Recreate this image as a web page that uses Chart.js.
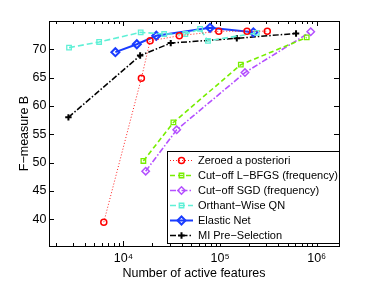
<!DOCTYPE html>
<html>
<head>
<meta charset="utf-8">
<script src="https://cdn.jsdelivr.net/npm/chart.js@4/dist/chart.umd.min.js"></script>
<style>
  html, body { margin: 0; padding: 0; background: #fff; }
  #wrap { width: 374px; height: 281px; }
</style>
</head>
<body>
<div id="wrap"><canvas id="chart" width="374" height="281"></canvas></div>
<script>
// series: number of active features (x) vs F-measure B (y)
const zeroedX = [6270, 15350, 18900, 37900, 97000, 190000, 308000];
const zeroedY = [39.5, 64.9, 71.5, 72.4, 73.2, 73.2, 73.2];

const lbfgsX = [16100, 32900, 164000, 788000];
const lbfgsY = [50.3, 57.1, 67.3, 72.1];

const sgdX = [17000, 35600, 181000, 867000];
const sgdY = [48.5, 55.8, 65.9, 73.1];

const owqnX = [2740, 5610, 15100, 26400, 43700, 62100, 75000, 240000];
const owqnY = [70.3, 71.3, 73.0, 72.7, 72.7, 73.6, 71.5, 72.9];

const elasticX = [8260, 13770, 21900, 78800, 221000];
const elasticY = [69.5, 70.9, 72.4, 73.8, 73.0];

const miX = [2700, 14900, 30900, 149000, 611000];
const miY = [58.0, 68.9, 71.1, 71.95, 72.8];

const seriesNames = [
  'Zeroed a posteriori',
  'Cut\u2212off L\u2212BFGS (frequency)',
  'Cut\u2212off SGD (frequency)',
  'Orthant\u2212Wise QN',
  'Elastic Net',
  'MI Pre\u2212Selection',
];

const xTicks = [1e4, 1e5, 1e6];
const xTickLabels = ['10\u2074', '10\u2075', '10\u2076'];
const yTicks = [40, 45, 50, 55, 60, 65, 70];

const xMin = 1700, xMax = 1.7e6;
const yMin = 35.3, yMax = 75;

const FONT = '"Liberation Sans", Arial, Helvetica, sans-serif';

function pts(xs, ys) {
  return xs.map((x, i) => ({ x, y: ys[i] }));
}

const clear = 'rgba(0,0,0,0)';

const datasets = [
  {
    label: seriesNames[0], data: pts(zeroedX, zeroedY),
    borderColor: '#ff2020', borderWidth: 1, borderDash: [1, 2],
    pointStyle: 'circle', pointRadius: 3, pointBorderWidth: 1.5,
    pointBorderColor: '#ff0000', pointBackgroundColor: clear,
  },
  {
    label: seriesNames[1], data: pts(lbfgsX, lbfgsY),
    borderColor: '#77ee00', borderWidth: 1.6, borderDash: [5, 3],
    pointStyle: 'rect', pointRadius: 3.2, pointBorderWidth: 1.3,
    pointBorderColor: '#77ee00', pointBackgroundColor: clear,
  },
  {
    label: seriesNames[2], data: pts(sgdX, sgdY),
    borderColor: '#b450ff', borderWidth: 1.6, borderDash: [6, 2, 1.5, 2],
    pointStyle: 'rectRot', pointRadius: 3.7, pointBorderWidth: 1.5,
    pointBorderColor: '#b450ff', pointBackgroundColor: clear,
  },
  {
    label: seriesNames[3], data: pts(owqnX, owqnY),
    borderColor: '#5ff0d6', borderWidth: 1.6, borderDash: [6, 3],
    pointStyle: 'rect', pointRadius: 3.2, pointBorderWidth: 1.3,
    pointBorderColor: '#5ff0d6', pointBackgroundColor: clear,
  },
  {
    label: seriesNames[4], data: pts(elasticX, elasticY),
    borderColor: '#1a3cff', borderWidth: 2, borderDash: [],
    pointStyle: 'rectRot', pointRadius: 4, pointBorderWidth: 2,
    pointBorderColor: '#1a3cff', pointBackgroundColor: clear,
  },
  {
    label: seriesNames[5], data: pts(miX, miY),
    borderColor: '#000000', borderWidth: 1.5, borderDash: [6, 2, 1.5, 2],
    pointStyle: 'cross', pointRadius: 3.2, pointBorderWidth: 2,
    pointBorderColor: '#000000', pointBackgroundColor: clear,
  },
];

// box + inward ticks like the original axes
const frameTicks = {
  id: 'frameTicks',
  afterDatasetsDraw(chart) {
    const { ctx, chartArea: a, scales: { x, y } } = chart;
    ctx.save();
    ctx.strokeStyle = '#000';
    ctx.lineWidth = 1;
    ctx.beginPath();
    for (let e = 3; e <= 6; e++) {
      for (let m = 1; m <= 9; m++) {
        const v = m * Math.pow(10, e);
        if (v < xMin || v > xMax) continue;
        const px = Math.round(x.getPixelForValue(v)) + 0.5;
        const len = m === 1 ? 5 : 3;
        ctx.moveTo(px, a.bottom); ctx.lineTo(px, a.bottom - len);
        ctx.moveTo(px, a.top); ctx.lineTo(px, a.top + len);
      }
    }
    yTicks.forEach((v) => {
      const py = Math.round(y.getPixelForValue(v)) + 0.5;
      ctx.moveTo(a.left, py); ctx.lineTo(a.left + 5, py);
      ctx.moveTo(a.right, py); ctx.lineTo(a.right - 5, py);
    });
    ctx.stroke();
    ctx.strokeRect(Math.round(a.left) + 0.5, Math.round(a.top) + 0.5,
      Math.round(a.right - a.left), Math.round(a.bottom - a.top));
    ctx.restore();
  },
};

// boxed legend in the lower right corner of the plot
const boxLegend = {
  id: 'boxLegend',
  afterDraw(chart) {
    const { ctx } = chart;
    const left = 167.5, top = 151.5, w = 172, h = 92;
    const rowH = 15, firstRow = 160.5;
    ctx.save();
    ctx.fillStyle = '#fff';
    ctx.fillRect(left, top, w, h);
    ctx.strokeStyle = '#000';
    ctx.lineWidth = 1;
    ctx.strokeRect(left, top, w, h);
    chart.data.datasets.forEach((ds, i) => {
      const cy = firstRow + i * rowH;
      ctx.save();
      ctx.strokeStyle = ds.borderColor;
      ctx.lineWidth = ds.borderWidth;
      ctx.setLineDash(ds.borderDash || []);
      ctx.beginPath();
      ctx.moveTo(170, cy); ctx.lineTo(193, cy);
      ctx.stroke();
      ctx.restore();
      ctx.save();
      ctx.strokeStyle = ds.pointBorderColor;
      ctx.fillStyle = ds.pointBackgroundColor;
      ctx.lineWidth = ds.pointBorderWidth;
      Chart.helpers.drawPoint(ctx, { pointStyle: ds.pointStyle, radius: ds.pointRadius, rotation: 0, borderWidth: ds.pointBorderWidth }, 181.5, cy);
      ctx.restore();
      ctx.fillStyle = '#000';
      ctx.font = '11px ' + FONT;
      ctx.textBaseline = 'middle';
      ctx.textAlign = 'left';
      ctx.fillText(ds.label, 198, cy + 0.5);
    });
    ctx.restore();
  },
};

new Chart(document.getElementById('chart'), {
  type: 'line',
  data: { datasets },
  plugins: [frameTicks, boxLegend],
  options: {
    responsive: false,
    animation: false,
    devicePixelRatio: 1,
    layout: { padding: { left: 0, top: 21, right: 35, bottom: 0 } },
    plugins: { legend: { display: false }, tooltip: { enabled: false } },
    elements: { line: { tension: 0 } },
    scales: {
      x: {
        type: 'logarithmic',
        min: xMin,
        max: xMax,
        afterBuildTicks: (s) => { s.ticks = xTicks.map((v) => ({ value: v })); },
        afterFit: (s) => { s.height = 35; },
        grid: { display: false, drawTicks: false },
        border: { display: false },
        ticks: {
          padding: 5,
          maxRotation: 0,
          autoSkip: false,
          color: '#000',
          font: { family: FONT, size: 12.5 },
          callback: (v) => xTickLabels[xTicks.indexOf(v)] || '',
        },
        title: {
          display: true,
          text: 'Number of active features',
          color: '#000',
          font: { family: FONT, size: 12.5 },
          padding: { top: 0, bottom: 0 },
        },
      },
      y: {
        type: 'linear',
        min: yMin,
        max: yMax,
        afterBuildTicks: (s) => { s.ticks = yTicks.map((v) => ({ value: v })); },
        afterFit: (s) => { s.width = 49; },
        grid: { display: false, drawTicks: false },
        border: { display: false },
        ticks: {
          padding: 2.5,
          color: '#000',
          font: { family: FONT, size: 12.5 },
        },
        title: {
          display: true,
          text: 'F\u2212measure B',
          color: '#000',
          font: { family: FONT, size: 12.5 },
          padding: { top: 17.5, bottom: 0 },
        },
      },
    },
  },
});
</script>
</body>
</html>
